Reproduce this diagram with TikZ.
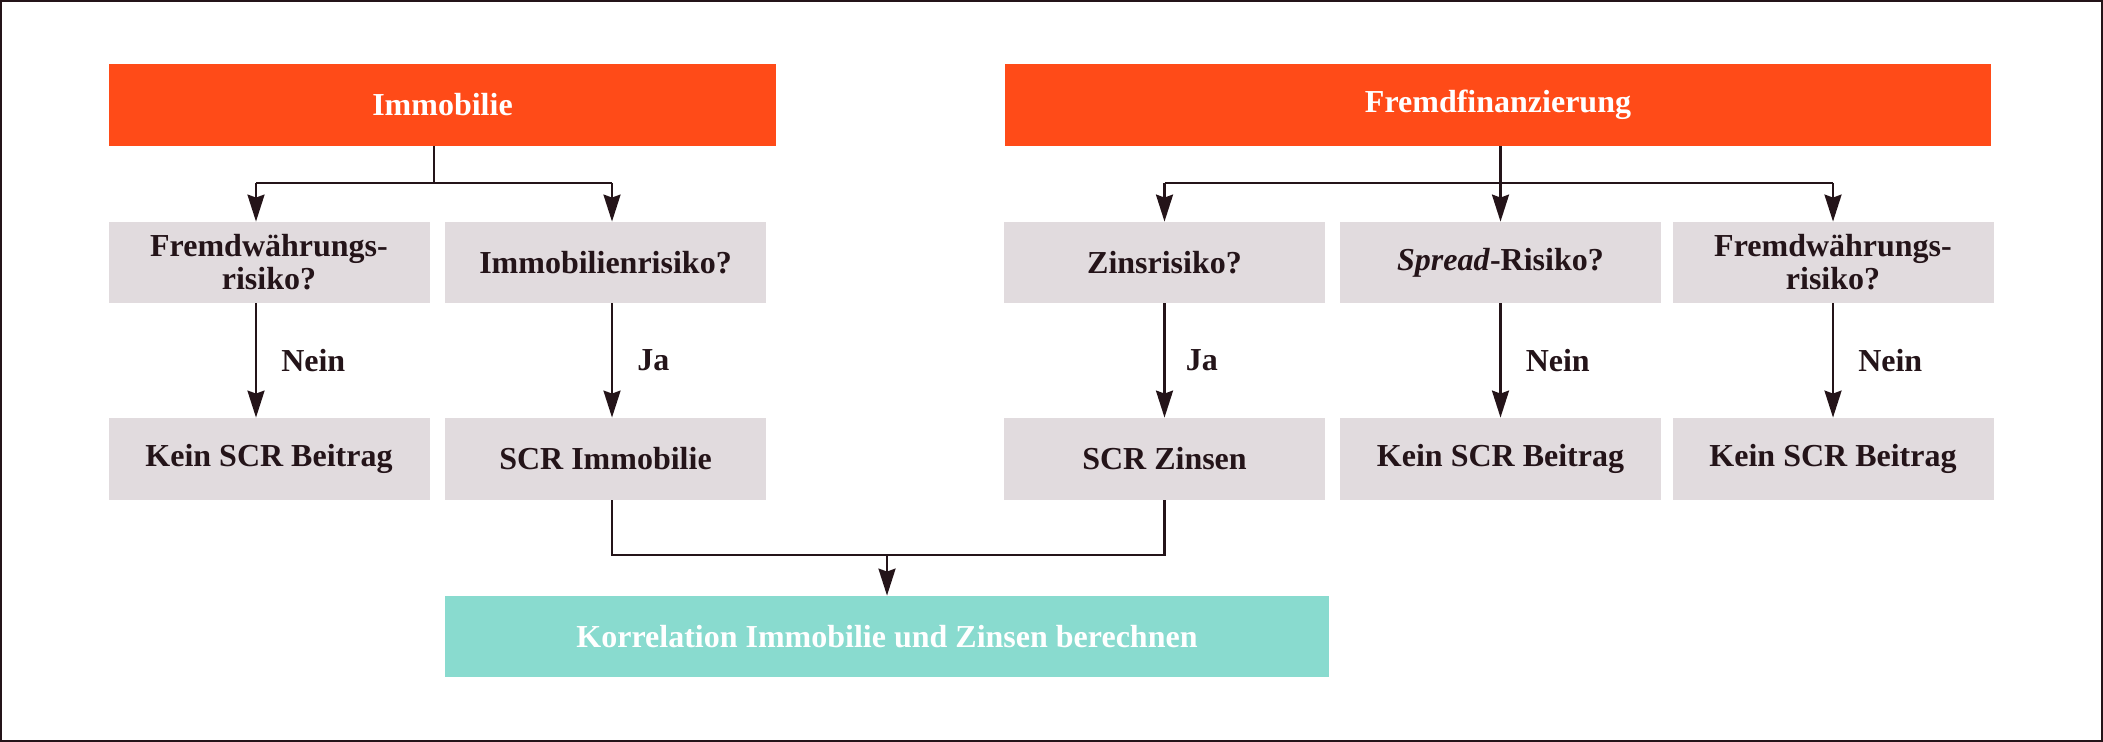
\documentclass[tikz,border=0pt]{standalone}
\usepackage{fontspec}
\setmainfont{Liberation Serif}
\usetikzlibrary{arrows.meta}
\definecolor{orng}{HTML}{FF4B18}
\definecolor{greybox}{HTML}{E1DBDE}
\definecolor{tealbox}{HTML}{89DBCF}
\definecolor{ink}{HTML}{241419}
\tikzset{
  boxbase/.style={inner sep=0pt, align=center, font=\fontsize{16}{16.5}\selectfont\bfseries},
  topbox/.style={boxbase, fill=orng, text=white, minimum height=41pt},
  qbox/.style={boxbase, fill=greybox, text=ink, minimum width=160.5pt, minimum height=40.5pt},
  resbox/.style={boxbase, fill=tealbox, text=white, minimum height=40.5pt},
  conn/.style={draw=ink, line width=1.25pt},
  arr/.style={conn, -{Stealth[length=13.5pt, width=8.5pt, inset=1.5pt]}},
  lbl/.style={anchor=west, inner sep=0pt, text=ink, font=\fontsize{16}{16.5}\selectfont\bfseries},
}
\begin{document}
\begin{tikzpicture}[x=0.5pt, y=-0.5pt]
\useasboundingbox (0,0) rectangle (2103,742);
\draw[draw=ink, line width=1pt] (1,1) rectangle (2102,741);

% top boxes
\node[topbox, minimum width=333.5pt] (imm) at (442.5,105) {Immobilie};
\node[topbox, minimum width=493pt] (ff) at (1498,105) {Fremdfinanzierung};

% question row
\node[qbox] (q1) at (269,262.5) {Fremdwährungs-\\risiko?};
\node[qbox] (q2) at (605.5,262.5) {Immobilienrisiko?};
\node[qbox] (q3) at (1164.5,262.5) {Zinsrisiko?};
\node[qbox] (q4) at (1500.5,262.5) {\textit{Spread}-Risiko?};
\node[qbox] (q5) at (1833,262.5) {Fremdwährungs-\\risiko?};

% result row
\node[qbox, minimum height=41pt] (r1) at (269,459) {Kein SCR Beitrag};
\node[qbox, minimum height=41pt] (r2) at (605.5,459) {SCR Immobilie};
\node[qbox, minimum height=41pt] (r3) at (1164.5,459) {SCR Zinsen};
\node[qbox, minimum height=41pt] (r4) at (1500.5,459) {Kein SCR Beitrag};
\node[qbox, minimum height=41pt] (r5) at (1833,459) {Kein SCR Beitrag};

% final
\node[resbox, minimum width=442pt] (fin) at (887,636.5) {Korrelation Immobilie und Zinsen berechnen};

% junction coordinates
\coordinate (ji) at (434,183);
\coordinate (a1) at (256,183);
\coordinate (a2) at (612,183);
\coordinate (jf) at (1500.5,183);
\coordinate (a3) at (1164.5,183);
\coordinate (a5) at (1833,183);
\coordinate (jb) at (887,555);

% Immobilie branch
\draw[conn] (imm.south -| ji) -- (ji);
\draw[conn] (a1) -- (a2);
\draw[arr] (a1) -- (a1 |- q1.north);
\draw[arr] (a2) -- (a2 |- q2.north);

% Fremdfinanzierung branch
\draw[conn] (ff.south -| jf) -- (jf);
\draw[conn] (a3) -- (a5);
\draw[arr] (a3) -- (q3.north);
\draw[arr] (jf) -- (q4.north);
\draw[arr] (a5) -- (q5.north);

% decisions
\draw[arr] (q1.south -| a1) -- (r1.north -| a1) node[lbl, midway, xshift=12pt] {Nein};
\draw[arr] (q2.south -| a2) -- (r2.north -| a2) node[lbl, midway, xshift=12pt] {Ja};
\draw[arr] (q3.south) -- (r3.north) node[lbl, midway, xshift=10pt] {Ja};
\draw[arr] (q4.south) -- (r4.north) node[lbl, midway, xshift=12pt] {Nein};
\draw[arr] (q5.south) -- (r5.north) node[lbl, midway, xshift=12pt] {Nein};

% merge to final
\draw[conn] (r2.south -| a2) |- (jb) -| (r3.south);
\draw[arr] (jb) -- (fin.north);
\end{tikzpicture}
\end{document}
